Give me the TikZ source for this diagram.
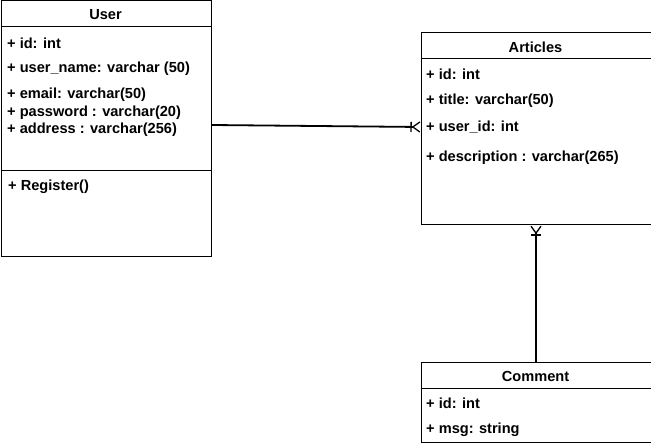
\documentclass[tikz,border=0pt]{standalone}
\usepackage{fontspec}
\setmainfont{Liberation Sans}
\usetikzlibrary{arrows.meta}
\tikzset{box/.style = {draw, line width = 1pt, anchor = north west, inner sep = 0}}
\tikzset{field/.style = {anchor = west, inner sep = 0, yshift = -1pt, font = \bfseries\fontsize{14.6}{16}\selectfont}}
\tikzset{head/.style = {field, anchor = center}}
\tikzset{tomany/.style = {line width = 1.8pt,
                          -{Bar[width = 10pt, line width = 1.3pt]Straight Barb[reversed, length = 7pt, width = 10pt, line width = 1.3pt]}}}

\begin{document}
\begin{tikzpicture}[x = 1pt, y = -1pt]
      \useasboundingbox (0, 0) rectangle (651, 443);
      % User
      \node [box, minimum width = 210pt, minimum height = 256pt] (user) at (0.5, 0.5) {};
      \draw (0.5, 26.5) -- (210.5, 26.5);
      \draw (0.5, 170.5) -- (210.5, 170.5);
      \node [head] (userhead) at (105.5, 14) {User};
      \node [field] (userid) at (7, 42) {+ id: int};
      \node [field] (username) at (7, 68) {+ user\_name: varchar (50)};
      \node [field] (useremail) at (7, 94) {+ email: varchar(50)};
      \node [field] (userpass) at (7, 111.5) {+ password : varchar(20)};
      \node [field] (useraddr) at (7, 129) {+ address : varchar(256)};
      \node [field] (userreg) at (8, 186) {+ Register()};
      % Articles
      \node [box, minimum width = 230pt, minimum height = 192pt] (articles) at (420.5, 32.5) {};
      \draw (420.5, 58.5) -- (650.5, 58.5);
      \node [head] (articleshead) at (535.5, 46) {Articles};
      \node [field] (articleid) at (426, 73) {+ id: int};
      \node [field] (articletitle) at (426, 100) {+ title: varchar(50)};
      \node [field] (articleuser) at (426, 126) {+ user\_id: int};
      \node [field] (articledesc) at (426, 157) {+ description : varchar(265)};
      % Comment
      \node [box, minimum width = 230pt, minimum height = 80pt] (comment) at (420.5, 362.5) {};
      \draw (420.5, 388.5) -- (650.5, 388.5);
      \node [head] (commenthead) at (535.5, 375) {Comment};
      \node [field] (commentid) at (426, 402) {+ id: int};
      \node [field] (commentmsg) at (426, 429) {+ msg: string};
      % relations
      \draw [tomany] ([yshift = 4pt] user.east) -- ([yshift = 2pt] articles.west);
      \draw [tomany] (comment.north) -- (articles.south);
    \end{tikzpicture}
\end{document}
